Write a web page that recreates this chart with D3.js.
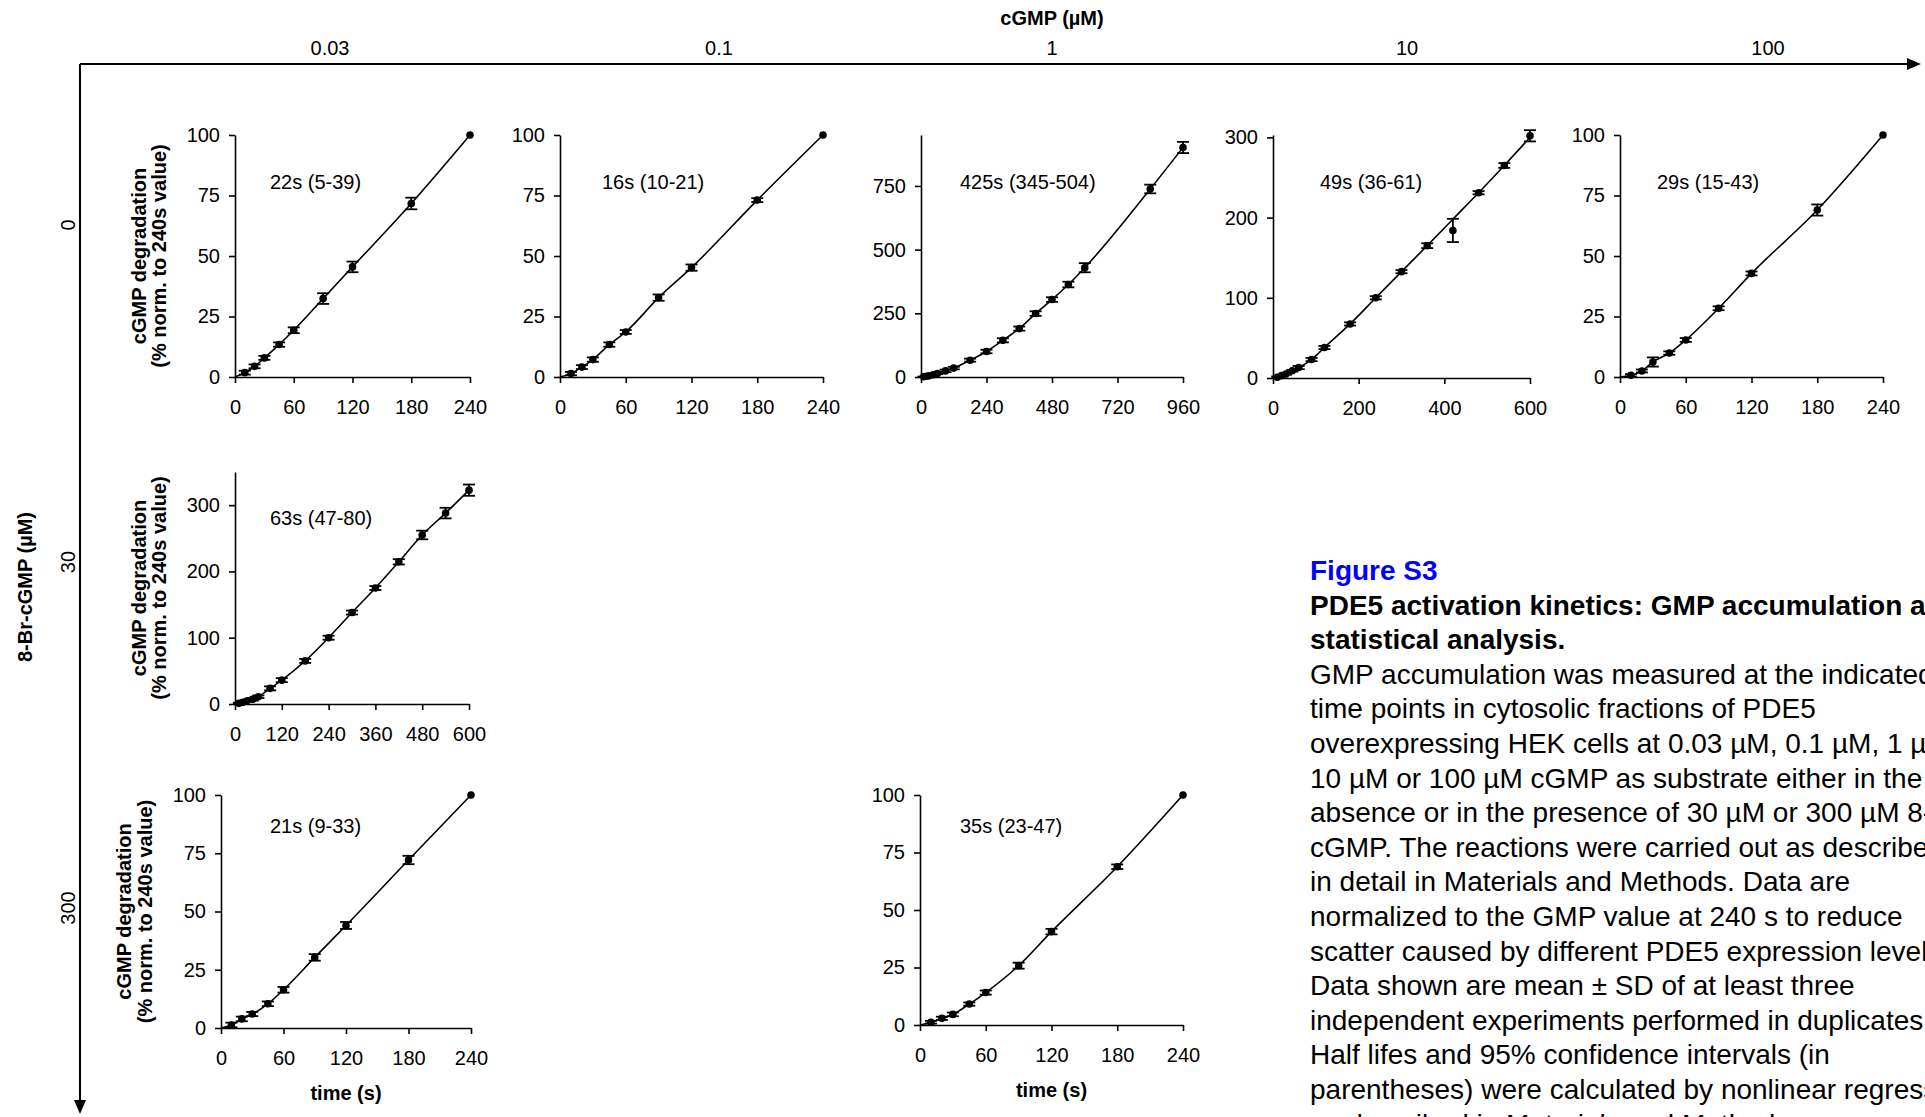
<!DOCTYPE html>
<html>
<head>
<meta charset="utf-8">
<script src="https://cdn.jsdelivr.net/npm/d3@7"></script>
<style>
	body { margin: 0; background: #fff; }
	svg text { font-family: Arial, "Liberation Sans", sans-serif; fill: #000; }
</style>
</head>
<body>
<div id="chart"></div>
<script>
// ---- data ----
const cgmpLevels = ["0.03", "0.1", "1", "10", "100"];
const brLevels = ["0", "30", "300"];

const t240 = [10, 20, 30, 45, 60, 90, 120, 180, 240];
const t600 = [10, 20, 30, 45, 60, 90, 120, 180, 240, 300, 360, 420, 480, 540, 600];
const t960 = [10, 20, 30, 45, 60, 90, 120, 180, 240, 300, 360, 420, 480, 540, 600, 840, 960];

// cGMP 0.03 uM, 8-Br-cGMP 0
const mean003_0 = [1.8, 4.4, 7.9, 13.4, 19.3, 32.4, 45.5, 71.7, 100];
const sd003_0 = [0.8, 0.8, 0.8, 0.9, 1.2, 2.2, 2.2, 2.4, 0];
// cGMP 0.1 uM
const mean01_0 = [1.4, 4.1, 7.2, 13.4, 18.6, 32.8, 45.2, 73.1, 100];
const sd01_0 = [0.7, 0.8, 0.9, 0.9, 0.8, 1.3, 1.3, 0.8, 0];
// cGMP 1 uM
const mean1_0 = [1, 3, 5, 9, 14, 24, 35, 66, 100, 144, 190, 249, 304, 363, 429, 738, 901];
const sd1_0 = [1, 1, 1, 2, 3, 5, 5, 6, 7, 8, 8, 9, 9, 11, 18, 17, 22];
// cGMP 10 uM
const mean10_0 = [1, 3, 5, 9, 13, 23, 38, 67.4, 100, 132.6, 165, 184, 231, 265, 302];
const sd10_0 = [1, 1, 1, 1, 2, 2, 2, 2, 2, 2, 3, 14.5, 2, 3, 7];
const fit10_0 = [1, 3, 5, 9, 13, 23, 38, 67.4, 100, 132.6, 165, 198, 231, 265, 300];
// cGMP 100 uM
const mean100_0 = [0.7, 2.5, 6.2, 9.9, 15.3, 28.4, 42.8, 69, 100];
const sd100_0 = [0.5, 0.6, 1.9, 0.7, 0.8, 0.8, 0.8, 2.3, 0];
// cGMP 0.03 uM, 8-Br-cGMP 30
const mean003_30 = [1, 2.5, 4.5, 7, 11, 23.6, 36, 65, 100, 138, 175, 214.5, 255, 288, 322.6];
const sd003_30 = [1, 1, 1, 2, 2, 3, 3, 3, 3, 3, 3, 4, 6.5, 8, 8.5];
// cGMP 0.03 uM, 8-Br-cGMP 300
const mean003_300 = [1.3, 3.9, 6, 10.4, 16.4, 30.3, 44, 72.1, 100];
const sd003_300 = [1, 1, 0.9, 1, 1.2, 1.4, 1.5, 1.8, 0];
// cGMP 1 uM, 8-Br-cGMP 300
const mean1_300 = [1.2, 2.9, 4.6, 9.1, 14.1, 25.8, 40.6, 68.8, 100];
const sd1_300 = [0.6, 0.7, 0.8, 0.7, 0.9, 1.3, 1.2, 1.0, 0];

const halfLifes = ["22s (5-39)", "16s (10-21)", "425s (345-504)", "49s (36-61)", "29s (15-43)",
	"63s (47-80)", "21s (9-33)", "35s (23-47)"];

const xTicks240 = [0, 60, 120, 180, 240];
const xTicks960 = [0, 240, 480, 720, 960];
const xTicks600 = [0, 200, 400, 600];
const xTicks600b = [0, 120, 240, 360, 480, 600];
const yTicks100 = [0, 25, 50, 75, 100];
const yTicks750 = [0, 250, 500, 750];
const yTicks300 = [0, 100, 200, 300];

const captionTitle = ["PDE5 activation kinetics: GMP accumulation and", "statistical analysis."];
const captionBody = [
	"GMP accumulation was measured at the indicated",
	"time points in cytosolic fractions of PDE5",
	"overexpressing HEK cells at 0.03 \u00b5M, 0.1 \u00b5M, 1 \u00b5M,",
	"10 \u00b5M or 100 \u00b5M cGMP as substrate either in the",
	"absence or in the presence of 30 \u00b5M or 300 \u00b5M 8-Br-",
	"cGMP. The reactions were carried out as described",
	"in detail in Materials and Methods. Data are",
	"normalized to the GMP value at 240 s to reduce",
	"scatter caused by different PDE5 expression levels.",
	"Data shown are mean \u00b1 SD of at least three",
	"independent experiments performed in duplicates.",
	"Half lifes and 95% confidence intervals (in",
	"parentheses) were calculated by nonlinear regression",
	"as described in Materials and Methods."
];

// ---- layout ----
const width = 1925;
const height = 1117;
const fs = "20px";

const svg = d3.select("#chart")
	.append("svg")
		.attr("width", width)
		.attr("height", height);

const panels = [
	{t: t240, mean: mean003_0, sd: sd003_0, xMax: 240, xTicks: xTicks240, yMax: 100, yTicks: yTicks100,
		left: 235, right: 470, top: 135, bottom: 377, label: halfLifes[0], lx: 35, ly: 47, yTitle: [139, 159]},
	{t: t240, mean: mean01_0, sd: sd01_0, xMax: 240, xTicks: xTicks240, yMax: 100, yTicks: yTicks100,
		left: 560, right: 823, top: 135, bottom: 377, label: halfLifes[1], lx: 42, ly: 47},
	{t: t960, mean: mean1_0, sd: sd1_0, xMax: 960, xTicks: xTicks960, yMax: 950, yTicks: yTicks750,
		left: 921, right: 1183, top: 135, bottom: 377, label: halfLifes[2], lx: 39, ly: 47},
	{t: t600, mean: mean10_0, sd: sd10_0, fit: fit10_0, xMax: 600, xTicks: xTicks600, yMax: 303, yTicks: yTicks300,
		left: 1273, right: 1530, top: 135, bottom: 378, label: halfLifes[3], lx: 47, ly: 47},
	{t: t240, mean: mean100_0, sd: sd100_0, xMax: 240, xTicks: xTicks240, yMax: 100, yTicks: yTicks100,
		left: 1620, right: 1883, top: 135, bottom: 377, label: halfLifes[4], lx: 37, ly: 47},
	{t: t600, mean: mean003_30, sd: sd003_30, xMax: 600, xTicks: xTicks600b, yMax: 350, yTicks: yTicks300,
		left: 235, right: 469, top: 472, bottom: 704, label: halfLifes[5], lx: 35, ly: 46, yTitle: [139, 159]},
	{t: t240, mean: mean003_300, sd: sd003_300, xMax: 240, xTicks: xTicks240, yMax: 100, yTicks: yTicks100,
		left: 221, right: 471, top: 795, bottom: 1028, label: halfLifes[6], lx: 49, ly: 31, yTitle: [124, 145], xTitle: true},
	{t: t240, mean: mean1_300, sd: sd1_300, xMax: 240, xTicks: xTicks240, yMax: 100, yTicks: yTicks100,
		left: 920, right: 1183, top: 795, bottom: 1025, label: halfLifes[7], lx: 40, ly: 31, xTitle: true}
];

drawFrame();
panels.forEach(drawPanel);
drawCaption();

function drawFrame(){
	const g = svg.append("g").attr("class", "frame");

	// top cGMP axis
	g.append("line")
		.attr("x1", 80).attr("y1", 64)
		.attr("x2", 1910).attr("y2", 64)
		.style("stroke", "#000")
		.style("stroke-width", 2);
	g.append("path")
		.attr("d", "M1921,64 L1907,58 L1907,70 Z")
		.style("fill", "#000");
	g.append("text")
		.attr("x", 1052).attr("y", 18)
		.attr("dy", "0.35em")
		.attr("text-anchor", "middle")
		.style("font-size", fs)
		.style("font-weight", "bold")
		.text("cGMP (\u00b5M)");

	const topX = [330, 719, 1052, 1407, 1768];
	g.selectAll(".top-label")
		.data(cgmpLevels)
		.join("text")
			.attr("class", "top-label")
			.attr("x", function(d, i){ return topX[i]; })
			.attr("y", 48)
			.attr("dy", "0.35em")
			.attr("text-anchor", "middle")
			.style("font-size", fs)
			.text(function(d){ return d; });

	// left 8-Br-cGMP axis
	g.append("line")
		.attr("x1", 80).attr("y1", 64)
		.attr("x2", 80).attr("y2", 1103)
		.style("stroke", "#000")
		.style("stroke-width", 2);
	g.append("path")
		.attr("d", "M80,1114 L74,1100 L86,1100 Z")
		.style("fill", "#000");
	g.append("text")
		.attr("transform", "translate(25, 587) rotate(-90)")
		.attr("dy", "0.35em")
		.attr("text-anchor", "middle")
		.style("font-size", fs)
		.style("font-weight", "bold")
		.text("8-Br-cGMP (\u00b5M)");

	const leftY = [225, 562, 908];
	g.selectAll(".left-label")
		.data(brLevels)
		.join("text")
			.attr("class", "left-label")
			.attr("transform", function(d, i){ return `translate(68, ${leftY[i]}) rotate(-90)`; })
			.attr("dy", "0.35em")
			.attr("text-anchor", "middle")
			.style("font-size", fs)
			.text(function(d){ return d; });
}

function drawPanel(p){
	const x = d3.scaleLinear().domain([0, p.xMax]).range([p.left, p.right]);
	const y = d3.scaleLinear().domain([0, p.yMax]).range([p.bottom, p.top]);
	const g = svg.append("g").attr("class", "panel");

	const xAxis = g.append("g")
		.attr("transform", `translate(0, ${p.bottom})`)
		.call(d3.axisBottom(x).tickValues(p.xTicks).tickSize(6).tickSizeOuter(0).tickPadding(17));
	const yAxis = g.append("g")
		.attr("transform", `translate(${p.left}, 0)`)
		.call(d3.axisLeft(y).tickValues(p.yTicks).tickSize(6).tickSizeOuter(0).tickPadding(9));

	[xAxis, yAxis].forEach(function(a){
		a.select(".domain").style("stroke-width", 1.6);
		a.selectAll(".tick line").style("stroke-width", 1.6);
		a.selectAll(".tick text")
			.style("font-size", fs)
			.style("font-family", "Arial, 'Liberation Sans', sans-serif");
	});

	// fitted curve
	const fit = p.fit || p.mean;
	const linePts = [[0, 0]].concat(p.t.map(function(t, i){ return [t, fit[i]]; }));
	g.append("path")
		.datum(linePts)
		.attr("d", d3.line()
			.x(function(d){ return x(d[0]); })
			.y(function(d){ return y(d[1]); })
			.curve(d3.curveMonotoneX))
		.style("fill", "none")
		.style("stroke", "#000")
		.style("stroke-width", 1.6);

	const pts = p.t.map(function(t, i){ return {t: t, m: p.mean[i], sd: p.sd[i]}; });

	// error bars
	const bars = g.selectAll(".err")
		.data(pts.filter(function(d){ return d.sd > 0; }))
		.join("g")
			.attr("class", "err")
			.style("stroke", "#000")
			.style("stroke-width", 1.8);
	bars.append("line")
		.attr("x1", function(d){ return x(d.t); })
		.attr("x2", function(d){ return x(d.t); })
		.attr("y1", function(d){ return y(d.m - d.sd); })
		.attr("y2", function(d){ return y(d.m + d.sd); });
	bars.append("line")
		.attr("x1", function(d){ return x(d.t) - 6; })
		.attr("x2", function(d){ return x(d.t) + 6; })
		.attr("y1", function(d){ return y(d.m - d.sd); })
		.attr("y2", function(d){ return y(d.m - d.sd); });
	bars.append("line")
		.attr("x1", function(d){ return x(d.t) - 6; })
		.attr("x2", function(d){ return x(d.t) + 6; })
		.attr("y1", function(d){ return y(d.m + d.sd); })
		.attr("y2", function(d){ return y(d.m + d.sd); });

	// means
	g.selectAll(".dot")
		.data(pts)
		.join("circle")
			.attr("class", "dot")
			.attr("cx", function(d){ return x(d.t); })
			.attr("cy", function(d){ return y(d.m); })
			.attr("r", 3.8)
			.style("fill", "#000");

	// half life label
	g.append("text")
		.attr("x", p.left + p.lx)
		.attr("y", p.top + p.ly)
		.attr("dy", "0.35em")
		.style("font-size", fs)
		.text(p.label);

	if(p.yTitle){
		const yc = (p.top + p.bottom) / 2;
		["cGMP degradation", "(% norm. to 240s value)"].forEach(function(s, i){
			g.append("text")
				.attr("transform", `translate(${p.yTitle[i]}, ${yc}) rotate(-90)`)
				.attr("dy", "0.35em")
				.attr("text-anchor", "middle")
				.style("font-size", fs)
				.style("font-weight", "bold")
				.text(s);
		});
	}
	if(p.xTitle){
		g.append("text")
			.attr("x", (p.left + p.right) / 2)
			.attr("y", p.bottom + 65)
			.attr("dy", "0.35em")
			.attr("text-anchor", "middle")
			.style("font-size", fs)
			.style("font-weight", "bold")
			.text("time (s)");
	}
}

function drawCaption(){
	const g = svg.append("g").attr("class", "caption");
	const x0 = 1310;
	const lh = 34.6;

	g.append("text")
		.attr("x", x0).attr("y", 580)
		.style("font-size", "28px")
		.style("font-weight", "bold")
		.style("fill", "#0000ff")
		.text("Figure S3");

	g.selectAll(".cap-title")
		.data(captionTitle)
		.join("text")
			.attr("class", "cap-title")
			.attr("x", x0)
			.attr("y", function(d, i){ return 580 + lh * (i + 1); })
			.style("font-size", "28px")
			.style("font-weight", "bold")
			.text(function(d){ return d; });

	g.selectAll(".cap-body")
		.data(captionBody)
		.join("text")
			.attr("class", "cap-body")
			.attr("x", x0)
			.attr("y", function(d, i){ return 580 + lh * (i + 3); })
			.style("font-size", "28px")
			.text(function(d){ return d; });
}
</script>
</body>
</html>
